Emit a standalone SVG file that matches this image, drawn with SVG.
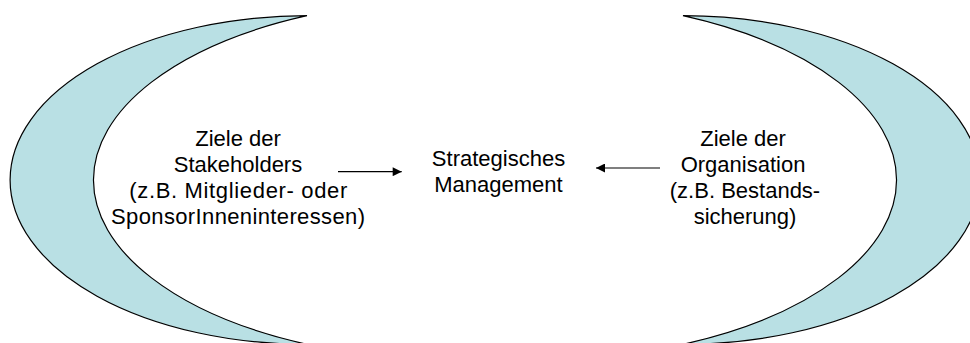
<svg xmlns="http://www.w3.org/2000/svg" width="970" height="343" viewBox="0 0 970 343">
  <defs>
    <style>
      .moon { fill: #B9E0E4; stroke: #000; stroke-width: 1.2; }
      .label { font-family: "Liberation Sans", Arial, sans-serif; font-size: 22px; fill: #000; text-anchor: middle; }
      .link { stroke: #000; stroke-width: 1.2; fill: none; }
    </style>
    <marker id="arrowhead" viewBox="0 0 10 10" refX="10" refY="5" markerWidth="10" markerHeight="9" markerUnits="userSpaceOnUse" orient="auto">
      <path d="M0,0 L10,5 L0,10 Z" fill="#000"/>
    </marker>
  </defs>

  <rect width="970" height="343" fill="#fff"/>

  <!-- left crescent: stakeholder goals -->
  <g id="stakeholders">
    <path class="moon" d="M307,15.7 A297,164.3 0 0 0 307,344.3 A361,180 0 0 1 307,15.7 Z"/>
    <text class="label" x="238" y="145.7">Ziele der</text>
    <text class="label" x="238" y="171.7">Stakeholders</text>
    <text class="label" x="238.3" y="197.7" textLength="218" lengthAdjust="spacing">(z.B. Mitglieder- oder</text>
    <text class="label" x="238" y="223.7" textLength="254" lengthAdjust="spacing">SponsorInneninteressen)</text>
  </g>

  <!-- centre: strategic management -->
  <g id="management">
    <text class="label" x="498.5" y="165.7">Strategisches</text>
    <text class="label" x="498.5" y="191.7">Management</text>
  </g>

  <!-- right crescent: organisational goals -->
  <g id="organisation">
    <path class="moon" d="M683,15.7 A297,164.3 0 0 1 683,344.3 A361,180 0 0 0 683,15.7 Z"/>
    <text class="label" x="743" y="145.7">Ziele der</text>
    <text class="label" x="743" y="171.7">Organisation</text>
    <text class="label" x="745" y="197.7">(z.B. Bestands-</text>
    <text class="label" x="745" y="223.7">sicherung)</text>
  </g>

  <g id="connectors">
    <line class="link" x1="338" y1="171.7" x2="401.7" y2="171.7" marker-end="url(#arrowhead)"/>
    <line class="link" x1="660" y1="168" x2="596" y2="168" marker-end="url(#arrowhead)"/>
  </g>
</svg>
